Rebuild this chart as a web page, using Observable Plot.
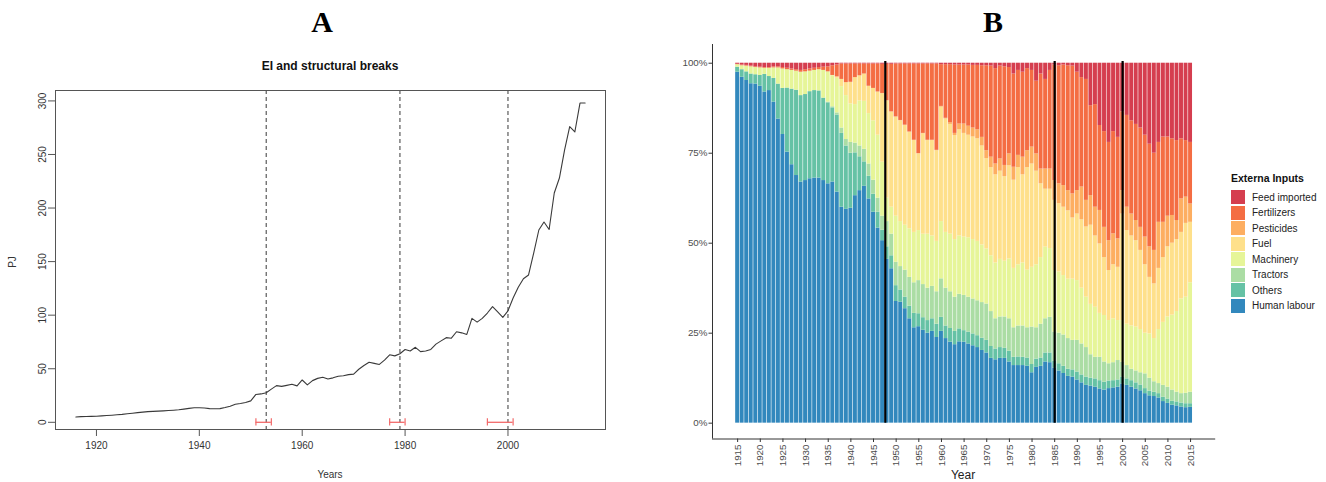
<!DOCTYPE html>
<html><head><meta charset="utf-8">
<script src="https://cdn.jsdelivr.net/npm/d3@7"></script>
<script src="https://cdn.jsdelivr.net/npm/@observablehq/plot@0.6"></script>
<style>
html,body{margin:0;padding:0;background:#fff;}
#wrap{position:relative;width:1326px;height:482px;overflow:hidden;font-family:"Liberation Sans",Arial,sans-serif;color:#222;}
.abs{position:absolute;white-space:nowrap;}
.c{transform:translate(-50%,-50%);}
.panel{position:absolute;top:0;}
.lg-row{position:absolute;left:0;height:15.5px;}
.lg-sw{position:absolute;left:0;top:0.75px;width:14px;height:14px;}
.lg-tx{position:absolute;left:21px;top:0;font-size:10px;line-height:15.5px;color:#222;}
</style></head><body>
<div id="wrap">
  <div class="abs" style="left:322px;top:7px;font:bold 30px 'Liberation Serif','Times New Roman',serif;line-height:30px;transform:translateX(-50%);color:#000;">A</div>
  <div class="abs" style="left:993px;top:7px;font:bold 30px 'Liberation Serif','Times New Roman',serif;line-height:30px;transform:translateX(-50%);color:#000;">B</div>
  <div class="abs c" style="left:330px;top:66px;font-weight:bold;font-size:12px;color:#111;">EI and structural breaks</div>
  <div class="abs" style="left:12px;top:262px;font-size:10px;color:#333;transform:translate(-50%,-50%) rotate(-90deg);">PJ</div>
  <div class="abs c" style="left:330px;top:474px;font-size:10px;color:#333;">Years</div>
  <div class="abs c" style="left:963px;top:475px;font-size:12px;color:#222;">Year</div>
  <div id="pA" class="panel" style="left:0;width:640px;height:482px;"></div>
  <div id="pB" class="panel" style="left:640px;width:686px;height:482px;"></div>
  <div id="legend" class="abs" style="left:1231px;top:171px;width:95px;height:150px;"></div>
</div>
<script>
// ---------- Panel A data ----------
const eiYears = d3.range(1916, 2016);
const eiPJ = [
  4.9, 5.3, 5.4, 5.5, 5.6, 6.0, 6.3, 6.6, 7.0, 7.4,
  8.0, 8.5, 9.0, 9.5, 10.0, 10.2, 10.4, 10.7, 11.0, 11.3,
  11.7, 12.3, 13.0, 13.6, 13.6, 13.4, 12.8, 12.7, 12.8, 13.8,
  15.0, 16.8, 17.5, 18.5, 20.0, 26.0, 26.5, 27.6, 31.0, 34.2,
  33.5, 34.5, 35.5, 34.0, 39.5, 35.0, 38.9, 41.0, 42.0, 40.5,
  41.5, 43.0, 43.5, 44.5, 45.0, 49.5, 53.0, 56.0, 55.0, 54.0,
  58.0, 63.0, 62.0, 64.0, 68.0, 66.5, 70.0, 66.0, 66.5, 68.0,
  73.0, 76.0, 79.0, 78.5, 84.5, 83.5, 82.0, 97.0, 93.5, 97.0,
  102.0, 108.0, 103.0, 98.0, 104.0, 116.0, 126.0, 134.0, 137.5, 158.0,
  179.5, 187.0, 180.0, 214.0, 228.0, 254.0, 276.0, 271.0, 298.0, 298.0
];
const breakYearsA = [1953, 1979, 2000];
const ciLow = [1951, 1977, 1996];
const ciHigh = [1954, 1980, 2001];
const xTicksA = [1920, 1940, 1960, 1980, 2000];
const yTicksA = [0, 50, 100, 150, 200, 250, 300];

// ---------- Panel B data (upper edge of each stacked layer, % of total) ----------
const yearsB = d3.range(1915, 2016);
const humanLabourTop = [
  97.5, 96.1, 95.2, 94.3, 94.2, 93.6, 92.0, 92.4, 89.2, 84.5,
  80.2, 75.3, 71.8, 68.8, 67.0, 67.4, 67.9, 68.1, 68.1, 67.4,
  66.5, 67.0, 64.2, 60.0, 59.4, 59.7, 63.2, 64.6, 65.8, 62.3,
  58.6, 54.2, 50.7, 45.5, 42.9, 33.8, 33.6, 31.8, 29.0, 26.5,
  26.8, 25.8, 25.0, 25.5, 23.8, 25.5, 23.5, 22.5, 21.8, 22.6,
  22.5, 22.0, 21.5, 21.0, 20.2, 19.5, 18.0, 17.6, 18.0, 18.0,
  17.0, 16.0, 16.0, 16.0, 15.8, 14.0, 15.5, 15.8, 17.0, 16.8,
  15.3, 14.5, 13.8, 13.0, 12.8, 12.0, 11.2, 10.5, 10.3, 10.0,
  9.5, 9.2, 9.6, 9.8, 10.0, 10.9, 10.5, 10.0, 9.5, 9.0,
  8.2, 7.6, 7.4, 7.0, 6.0, 5.5, 5.0, 4.8, 4.5, 4.3,
  4.4
];
const othersTop = [
  98.9, 98.2, 97.6, 97.0, 96.8, 96.6, 96.9, 96.3, 95.8, 94.2,
  93.0, 93.1, 92.8, 92.5, 91.0, 91.3, 92.1, 92.4, 92.3, 90.3,
  89.0, 87.6, 85.6, 80.5, 77.0, 75.0, 75.1, 74.0, 72.6, 68.6,
  63.6, 58.6, 53.6, 49.0, 46.5, 38.2, 37.0, 35.0, 32.5, 30.5,
  30.4, 29.3, 28.5, 29.0, 27.5, 29.4, 27.0, 26.3, 25.5, 26.2,
  25.7, 25.3, 24.8, 24.3, 23.6, 23.0, 21.3, 20.6, 21.0, 20.8,
  20.0, 18.3, 18.4, 18.3, 18.1, 16.3, 17.8, 18.1, 19.5, 19.5,
  17.2, 16.5, 15.8, 15.0, 14.8, 14.2, 13.4, 12.8, 12.5, 12.3,
  11.8, 11.4, 11.7, 11.8, 12.0, 12.8, 12.3, 11.8, 11.2, 10.6,
  9.6, 8.9, 8.6, 8.2, 7.2, 6.7, 6.1, 5.9, 5.6, 5.4,
  5.4
];
const tractorsTop = [
  98.9, 98.2, 97.6, 97.0, 96.8, 96.6, 96.9, 96.3, 95.8, 94.2,
  93.0, 93.1, 92.8, 92.5, 91.0, 91.3, 92.1, 92.4, 92.3, 90.3,
  89.2, 87.9, 86.2, 82.0, 78.8, 78.0, 77.8, 77.0, 76.1, 72.0,
  67.5, 62.5, 57.5, 56.0, 52.5, 44.7, 43.5, 42.5, 40.5, 39.0,
  39.6, 38.5, 37.5, 38.0, 36.5, 40.1, 37.5, 36.5, 35.0, 35.8,
  35.5, 35.0, 34.5, 34.0, 33.5, 33.1, 31.0, 29.0, 29.5, 29.5,
  29.0, 26.5, 27.0, 27.0, 26.5, 26.7, 26.5, 27.5, 29.0, 29.4,
  25.3, 25.0, 24.5, 23.5, 23.0, 23.0, 22.0, 21.0, 19.0, 18.3,
  18.3, 17.0, 16.5, 16.8, 17.4, 16.9, 16.0, 15.0, 14.5, 14.0,
  13.7, 12.5, 11.5, 11.0, 10.5, 10.0, 9.2, 8.6, 8.2, 8.3,
  8.6
];
const machineryTop = [
  99.6, 99.3, 99.2, 99.0, 98.8, 98.7, 98.6, 98.6, 98.7, 98.7,
  98.4, 98.2, 98.0, 97.8, 97.5, 97.6, 97.8, 98.0, 98.2, 98.0,
  97.6, 96.5, 95.8, 93.5, 91.0, 88.7, 88.5, 89.5, 89.4, 86.0,
  84.0, 80.0, 72.5, 62.5, 60.0, 57.5, 56.0, 55.0, 54.0, 53.0,
  53.5, 52.5, 52.5, 52.0, 50.5, 56.0, 53.0, 52.5, 51.0, 52.0,
  51.7, 51.5, 51.0, 50.5, 49.5, 48.4, 46.5, 44.5, 45.5, 45.0,
  45.6, 43.0, 44.0, 44.5, 42.5, 43.3, 44.0, 46.0, 48.9, 48.5,
  42.4, 42.0, 41.0, 40.0, 40.0, 39.6, 37.5, 35.0, 33.0, 32.2,
  30.5, 29.9, 28.5, 29.0, 28.5, 28.5, 27.5, 27.0, 26.7, 26.0,
  25.0, 24.8, 23.5, 26.0, 28.0, 29.5, 30.0, 31.0, 34.5, 35.0,
  39.0
];
const fuelTop = [
  99.6, 99.3, 99.2, 99.0, 98.8, 98.7, 98.6, 98.6, 98.7, 98.7,
  98.4, 98.2, 98.0, 97.8, 97.5, 97.6, 97.8, 98.0, 98.2, 98.0,
  97.6, 96.6, 96.2, 95.5, 94.6, 94.7, 96.0, 96.5, 97.0, 93.6,
  93.0, 92.0, 91.5, 89.5, 86.4, 85.0, 84.0, 82.7, 80.8, 78.5,
  74.8, 80.4, 78.5, 78.5, 75.7, 87.8, 84.5, 83.0, 79.9, 81.5,
  80.5, 80.0, 79.5, 79.0, 77.0, 73.5, 71.0, 69.0, 70.0, 68.5,
  71.5, 67.5, 71.0, 69.0, 71.0, 72.0, 70.0, 66.5, 65.0, 65.0,
  61.9, 61.0, 60.0, 59.0, 57.0, 58.1, 56.5, 54.5, 55.0, 52.0,
  49.8, 46.0, 42.4, 44.0, 43.3, 58.1, 53.5, 52.0, 50.7, 48.0,
  44.0, 40.5, 38.7, 43.0, 46.0, 49.0, 50.0, 51.0, 53.0, 55.5,
  55.8
];
const pesticidesTop = [
  99.6, 99.3, 99.2, 99.0, 98.8, 98.7, 98.6, 98.6, 98.7, 98.7,
  98.4, 98.2, 98.0, 97.8, 97.5, 97.6, 97.8, 98.0, 98.2, 98.0,
  97.6, 96.6, 96.2, 95.5, 94.6, 94.7, 96.0, 96.5, 97.0, 93.6,
  93.0, 92.0, 91.6, 89.6, 86.5, 85.1, 84.1, 82.8, 80.9, 78.6,
  74.9, 80.5, 78.6, 78.6, 75.8, 88.0, 84.7, 83.5, 80.5, 83.1,
  83.1, 82.5, 82.0, 81.5, 79.4, 75.7, 73.9, 72.0, 73.4, 71.6,
  74.8, 71.1, 74.4, 73.9, 75.7, 76.7, 74.8, 70.6, 70.6, 70.6,
  67.4, 66.5, 66.0, 64.6, 63.7, 64.6, 65.6, 61.9, 63.2, 60.0,
  59.1, 54.4, 50.7, 52.6, 51.2, 64.6, 60.0, 58.1, 56.3, 54.4,
  51.7, 49.0, 48.0, 55.8, 55.8, 57.5, 57.7, 56.3, 62.3, 62.8,
  60.9
];
const fertilizersTop = [
  99.7, 99.5, 99.4, 99.2, 99.0, 98.9, 98.8, 98.8, 99.0, 99.0,
  98.8, 98.6, 98.4, 98.2, 98.0, 98.2, 98.4, 98.6, 98.8, 98.9,
  99.0, 99.3, 99.5, 99.8, 99.8, 99.8, 99.8, 99.8, 99.8, 99.8,
  99.8, 99.8, 99.7, 99.7, 99.7, 99.8, 99.8, 99.8, 99.8, 99.8,
  99.8, 99.8, 99.8, 99.8, 99.8, 99.6, 99.6, 99.6, 99.5, 99.5,
  99.5, 99.5, 99.4, 99.4, 99.3, 99.3, 99.2, 98.5, 99.2, 99.0,
  98.8, 97.0, 98.0, 97.5, 98.5, 98.0, 95.0, 97.0, 95.5, 98.0,
  99.5, 99.3, 99.5, 99.3, 99.2, 97.5, 96.0, 95.5, 88.2, 88.5,
  82.7, 81.0, 78.0, 81.0, 79.4, 86.5, 85.5, 84.0, 83.0, 82.0,
  80.0, 77.5, 75.0, 78.0, 79.5, 79.5, 79.0, 78.5, 79.0, 78.5,
  78.0
];
const feedImportedTop = yearsB.map(() => 100); // stacks fill to 100%
const inputNames = ["Human labour", "Others", "Tractors", "Machinery", "Fuel", "Pesticides", "Fertilizers", "Feed imported"];
const inputColors = ["#3288BD", "#66C2A5", "#ABDDA4", "#E6F598", "#FEE08B", "#FDAE61", "#F46D43", "#D53E4F"];
const breakYearsB = [1947.6, 1985, 2000];
const xTicksB = [1915, 1920, 1925, 1930, 1935, 1940, 1945, 1950, 1955, 1960, 1965, 1970, 1975, 1980, 1985, 1990, 1995, 2000, 2005, 2010, 2015];
const yTicksB = [0, 25, 50, 75, 100];

// ---------- Panel A ----------
const eiTable = eiYears.map((year, i) => ({year, pj: eiPJ[i]}));
const ciTable = ciLow.map((lo, i) => ({lo, hi: ciHigh[i], y: 0}));
const ciEnds = ciLow.concat(ciHigh);

const plotA = Plot.plot({
  width: 640, height: 482,
  marginLeft: 55, marginRight: 35, marginTop: 90, marginBottom: 53,
  x: {domain: [1912.04, 2018.96]},
  y: {domain: [-6.72, 309.72]},
  style: {background: "transparent", fontFamily: "'Liberation Sans', Arial, sans-serif", fontSize: "10px", color: "#333"},
  marks: [
    Plot.ruleX(breakYearsA, {stroke: "#222", strokeWidth: 0.9, strokeDasharray: "4,3"}),
    Plot.line(eiTable, {x: "year", y: "pj", stroke: "#3a3a3a", strokeWidth: 1.1}),
    Plot.ruleY(ciTable, {x1: "lo", x2: "hi", y: "y", stroke: "#f26a6a", strokeWidth: 1.3}),
    Plot.ruleX(ciEnds, {x: d => d, y1: -3.4, y2: 3.4, stroke: "#f26a6a", strokeWidth: 1.2}),
    Plot.frame({stroke: "#555", strokeWidth: 1}),
    Plot.axisX({ticks: xTicksA, tickSize: 7, tickPadding: 5, tickFormat: d => String(d), label: null, stroke: "#555", fill: "#333", fontSize: 10}),
    Plot.axisY({ticks: yTicksA, tickSize: 7, tickPadding: 3, tickRotate: -90, label: null, stroke: "#555", fill: "#333", fontSize: 10})
  ]
});
document.getElementById("pA").appendChild(plotA);

// ---------- Panel B ----------
const layerTops = [humanLabourTop, othersTop, tractorsTop, machineryTop, fuelTop, pesticidesTop, fertilizersTop, feedImportedTop];
const rowsB = [];
yearsB.forEach((year, i) => {
  let lo = 0;
  inputNames.forEach((input, k) => {
    const hi = layerTops[k][i];
    rowsB.push({year, input, y1: lo, y2: hi});
    lo = hi;
  });
});

const plotB = Plot.plot({
  width: 686, height: 482,
  marginLeft: 72, marginRight: 110.8, marginTop: 44, marginBottom: 43.5,
  x: {domain: [1909.45, 2020.55]},
  y: {domain: [-4.4, 105.2]},
  color: {domain: inputNames, range: inputColors},
  style: {background: "transparent", fontFamily: "'Liberation Sans', Arial, sans-serif", fontSize: "10px", color: "#4d4d4d"},
  marks: [
    Plot.rect(rowsB, {x1: d => d.year - 0.5, x2: d => d.year + 0.5, y1: "y1", y2: "y2", fill: "input", insetLeft: 0.3, insetRight: 0.3}),
    Plot.ruleX(breakYearsB, {y1: 0, y2: 100.5, stroke: "#000", strokeWidth: 2.2}),
    Plot.ruleX([1909.45], {stroke: "#333", strokeWidth: 1}),
    Plot.ruleY([-4.4], {stroke: "#333", strokeWidth: 1}),
    Plot.axisY({ticks: yTicksB, tickFormat: d => d + "%", tickSize: 3.5, tickPadding: 1.5, label: null, stroke: "#333", fill: "#4d4d4d", fontSize: 9.8}),
    Plot.axisX({ticks: xTicksB, tickFormat: d => String(d), tickRotate: -90, tickSize: 3.5, tickPadding: 2, label: null, stroke: "#333", fill: "#4d4d4d", fontSize: 9.8})
  ]
});
document.getElementById("pB").appendChild(plotB);

// ---------- Legend ----------
const legend = document.getElementById("legend");
const title = document.createElement("div");
title.className = "abs";
title.style.cssText = "left:0;top:1px;font-weight:bold;font-size:10.5px;color:#111;";
title.textContent = "Externa Inputs";
legend.appendChild(title);
const legendOrder = inputNames.slice().reverse();
legendOrder.forEach((name, i) => {
  const row = document.createElement("div");
  row.className = "lg-row";
  row.style.top = (18.5 + i * 15.5) + "px";
  const sw = document.createElement("div");
  sw.className = "lg-sw";
  sw.style.background = inputColors[inputNames.indexOf(name)];
  const tx = document.createElement("div");
  tx.className = "lg-tx";
  tx.textContent = name;
  row.appendChild(sw); row.appendChild(tx);
  legend.appendChild(row);
});
</script>
</body></html>
